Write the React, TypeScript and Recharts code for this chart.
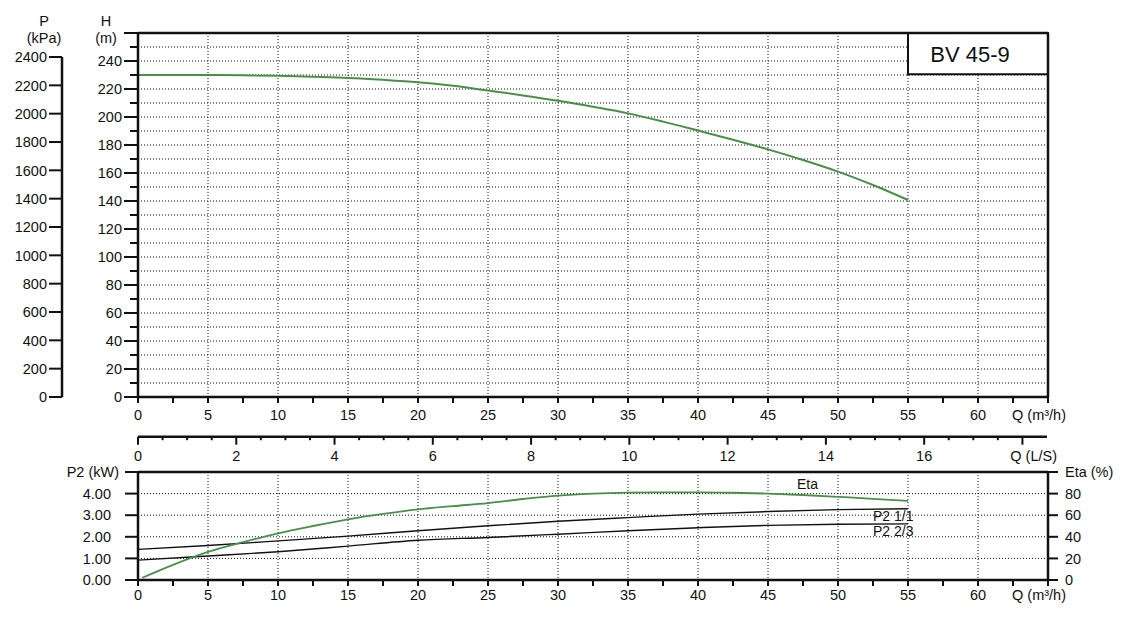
import React from 'react';
import { LineChart, Line, XAxis, YAxis, CartesianGrid, ReferenceLine, ReferenceArea } from 'recharts';

const FONT = '"Liberation Sans", Arial, Helvetica, sans-serif';
const FS = 14.5;
const INK = '#111';
const GREEN = '#4a8f4a';

// Q-H curve (Q in m³/h, H in m)
const qH = [0, 2.5, 5, 7.5, 10, 12.5, 15, 17.5, 20, 22.5, 25, 27.5, 30, 32.5, 35, 37.5, 40, 42.5, 45, 47.5, 50, 52.5, 55];
const hValues = [230, 230, 230, 229.8, 229.4, 228.7, 227.9, 226.6, 224.9, 222.3, 218.9, 215.4, 211.6, 207.3, 202.6, 196.7, 190.3, 183.8, 176.9, 169.3, 161, 151.4, 140.7];

// Efficiency (%)
const qEta = [0.3, 2.5, 5, 7.5, 10, 12.5, 15, 17.5, 20, 22.5, 25, 27.5, 30, 32.5, 35, 37.5, 40, 42.5, 45, 47.5, 50, 52.5, 55];
const etaValues = [2, 14, 26, 35, 43.2, 50, 56.2, 61.2, 65.4, 68.4, 71.2, 75, 78.2, 80, 80.9, 81.2, 81.2, 80.8, 80, 78.7, 77, 75.2, 73.2];

// Shaft power P2 (kW)
const qP2 = [0, 5, 10, 15, 20, 25, 30, 35, 40, 45, 50, 55];
const p2Full = [1.42, 1.6, 1.81, 2.03, 2.28, 2.51, 2.72, 2.89, 3.05, 3.17, 3.26, 3.3];
const p2TwoThirds = [0.92, 1.11, 1.31, 1.57, 1.84, 1.97, 2.12, 2.28, 2.42, 2.53, 2.58, 2.6];

// Axis ticks
const qTicks = [0, 2.5, 5, 7.5, 10, 12.5, 15, 17.5, 20, 22.5, 25, 27.5, 30, 32.5, 35, 37.5, 40, 42.5, 45, 47.5, 50, 52.5, 55, 57.5, 60, 62.5, 65];
const qGrid = [5, 10, 15, 20, 25, 30, 35, 40, 45, 50, 55, 60];
const hTicks = [0, 10, 20, 30, 40, 50, 60, 70, 80, 90, 100, 110, 120, 130, 140, 150, 160, 170, 180, 190, 200, 210, 220, 230, 240, 250, 260];
const hGrid = [10, 20, 30, 40, 50, 60, 70, 80, 90, 100, 110, 120, 130, 140, 150, 160, 170, 180, 190, 200, 210, 220, 230, 240, 250];
const kpaTicks = [0, 200, 400, 600, 800, 1000, 1200, 1400, 1600, 1800, 2000, 2200, 2400];
const lsTicks = [0, 0.5, 1, 1.5, 2, 2.5, 3, 3.5, 4, 4.5, 5, 5.5, 6, 6.5, 7, 7.5, 8, 8.5, 9, 9.5, 10, 10.5, 11, 11.5, 12, 12.5, 13, 13.5, 14, 14.5, 15, 15.5, 16, 16.5, 17, 17.5, 18, 18.5];
const p2Ticks = [0, 1, 2, 3, 4, 5];
const p2Grid = [1, 2, 3, 4];
const etaTicks = [0, 20, 40, 60, 80, 100];
const rightTopTicks = [0];

const modelName = 'BV 45-9';
const modelBox = { q1: 55, q2: 65, h1: 230.5, h2: 260 };

const hData = qH.map((q, i) => ({ q, h: hValues[i] }));
const etaData = qEta.map((q, i) => ({ q, eta: etaValues[i] }));
const p2Data = qP2.map((q, i) => ({ q, full: p2Full[i], two: p2TwoThirds[i] }));

const txt = { fontFamily: FONT, fontSize: FS, fill: INK } as const;
const axisStyle = { stroke: INK, strokeWidth: 2.5 };

function QTick(props: any) {
  const { x, y, payload, labelDy } = props;
  const v = payload.value;
  const lab = v % 5 === 0 && v <= 60;
  return (
    <g>
      <line x1={x} y1={y} x2={x} y2={y + 6} stroke={INK} strokeWidth={2} />
      {lab && (
        <text x={x} y={y + labelDy} textAnchor="middle" {...txt}>{v}</text>
      )}
      {v === 65 && (
        <text x={x + 18} y={y + labelDy} textAnchor="end" {...txt}>Q (m³/h)</text>
      )}
    </g>
  );
}

function LsTick(props: any) {
  const { x, y, payload } = props;
  const v = payload.value;
  if (v === 18.5) {
    return <text x={x + 10} y={y + 24.5} textAnchor="end" {...txt}>Q (L/S)</text>;
  }
  const major = v % 2 === 0;
  return (
    <g>
      <line x1={x} y1={y} x2={x} y2={y + (major ? 8 : 3.5)} stroke={INK} strokeWidth={2} />
      {major && v <= 16 && <text x={x} y={y + 24.5} textAnchor="middle" {...txt}>{v}</text>}
    </g>
  );
}

function HTick(props: any) {
  const { x, y, payload } = props;
  const v = payload.value;
  const major = v % 20 === 0;
  return (
    <g>
      <line x1={x - (major ? 14 : 8)} y1={y} x2={x} y2={y} stroke={INK} strokeWidth={2} />
      {major && v <= 240 && (
        <text x={x - 16} y={y} dy="0.36em" textAnchor="end" {...txt}>{v}</text>
      )}
      {v === 260 && (
        <g>
          <text x={x - 32} y={y - 7} textAnchor="middle" {...txt}>H</text>
          <text x={x - 32} y={y + 10} textAnchor="middle" {...txt}>(m)</text>
        </g>
      )}
    </g>
  );
}

function KpaTick(props: any) {
  const { x, y, payload } = props;
  const v = payload.value;
  return (
    <g>
      <line x1={x - 13} y1={y} x2={x} y2={y} stroke={INK} strokeWidth={2} />
      <text x={x - 15} y={y} dy="0.36em" textAnchor="end" {...txt}>{v}</text>
      {v === 2400 && (
        <g>
          <text x={x - 18} y={y - 31} textAnchor="middle" {...txt}>P</text>
          <text x={x - 18} y={y - 14} textAnchor="middle" {...txt}>(kPa)</text>
        </g>
      )}
    </g>
  );
}

function RightTopTick(props: any) {
  const { x, y, payload } = props;
  return (
    <g>
      <line x1={x} y1={y} x2={x + 12} y2={y} stroke={INK} strokeWidth={2} />
      <text x={x + 14} y={y} dy="0.36em" textAnchor="start" {...txt}>{payload.value}</text>
    </g>
  );
}

function P2Tick(props: any) {
  const { x, y, payload } = props;
  const v = payload.value;
  return (
    <g>
      <line x1={x - 13} y1={y} x2={x} y2={y} stroke={INK} strokeWidth={2} />
      {v < 5 ? (
        <text x={x - 27} y={y} dy="0.36em" textAnchor="end" {...txt}>{v.toFixed(2)}</text>
      ) : (
        <text x={x - 19} y={y} dy="0.36em" textAnchor="end" {...txt}>P2 (kW)</text>
      )}
    </g>
  );
}

function EtaTick(props: any) {
  const { x, y, payload } = props;
  const v = payload.value;
  return (
    <g>
      <line x1={x} y1={y} x2={x + 10} y2={y} stroke={INK} strokeWidth={2} />
      <text x={x + 17} y={y} dy="0.36em" textAnchor="start" {...txt}>{v < 100 ? v : 'Eta (%)'}</text>
    </g>
  );
}

function BoxLabel(props: any) {
  const vb = props.viewBox || {};
  const cx = vb.x + vb.width / 2 - 8;
  const cy = vb.y + vb.height / 2;
  return (
    <text x={cx} y={cy} dy="0.36em" textAnchor="middle" fontFamily={FONT} fontSize={22} fill={INK}>
      {modelName}
    </text>
  );
}

const endLabel = (text: string, dx: number, dy: number, last: number) => (props: any) => {
  if (props.index !== last) return <g />;
  return (
    <text x={props.x + dx} y={props.y + dy} textAnchor="start" fontFamily={FONT} fontSize={14} fill={INK}>
      {text}
    </text>
  );
};

export default function App() {
  return (
    <div style={{ position: 'absolute', left: 0, top: 0, width: 1124, height: 625, background: '#fff', overflow: 'hidden' }}>
      {/* Q-H chart */}
      <div style={{ position: 'absolute', left: 0, top: 0 }}>
        <LineChart width={1124} height={430} data={hData} margin={{ top: 33, right: 36, bottom: 3, left: 98 }}>
          <CartesianGrid
            horizontalValues={hGrid}
            verticalValues={qGrid}
            stroke={INK}
            strokeWidth={1}
            strokeDasharray="1 2"
          />
          <XAxis
            dataKey="q"
            type="number"
            domain={[0, 65]}
            ticks={qTicks}
            interval={0}
            height={30}
            tickSize={0}
            tickMargin={0}
            tickLine={false}
            axisLine={axisStyle}
            tick={<QTick labelDy={23} />}
            allowDataOverflow
          />
          <YAxis
            type="number"
            domain={[0, 260]}
            ticks={hTicks}
            interval={0}
            width={40}
            tickSize={0}
            tickMargin={0}
            tickLine={false}
            axisLine={axisStyle}
            tick={<HTick />}
            allowDataOverflow
          />
          <YAxis
            yAxisId="r"
            orientation="right"
            type="number"
            domain={[0, 260]}
            ticks={rightTopTicks}
            interval={0}
            width={40}
            tickSize={0}
            tickMargin={0}
            tickLine={false}
            axisLine={axisStyle}
            tick={<RightTopTick />}
          />
          <ReferenceLine y={260} stroke={INK} strokeWidth={2.5} />
          <ReferenceArea
            x1={modelBox.q1}
            x2={modelBox.q2}
            y1={modelBox.h1}
            y2={modelBox.h2}
            fill="#fff"
            fillOpacity={1}
            stroke={INK}
            strokeWidth={2}
            label={<BoxLabel />}
          />
          <Line dataKey="h" type="monotone" stroke={GREEN} strokeWidth={2} dot={false} isAnimationActive={false} />
        </LineChart>
      </div>

      {/* kPa axis */}
      <div style={{ position: 'absolute', left: 0, top: 0 }}>
        <LineChart width={200} height={430} data={hData} margin={{ top: 57, right: 0, bottom: 33, left: 0 }}>
          <XAxis dataKey="q" type="number" domain={[0, 65]} hide />
          <YAxis
            type="number"
            domain={[0, 2400]}
            ticks={kpaTicks}
            interval={0}
            width={62}
            tickSize={0}
            tickMargin={0}
            tickLine={false}
            axisLine={axisStyle}
            tick={<KpaTick />}
            allowDataOverflow
          />
        </LineChart>
      </div>

      {/* L/S axis */}
      <div style={{ position: 'absolute', left: 0, top: 400 }}>
        <LineChart width={1124} height={70} data={hData} margin={{ top: 0, right: 77, bottom: 3.3, left: 138 }}>
          <XAxis
            dataKey="ls"
            type="number"
            domain={[0, 18.5]}
            ticks={lsTicks}
            interval={0}
            height={30}
            tickSize={0}
            tickMargin={0}
            tickLine={false}
            axisLine={axisStyle}
            tick={<LsTick />}
            allowDataOverflow
          />
          <YAxis hide domain={[0, 1]} />
        </LineChart>
      </div>

      {/* P2 / Eta chart */}
      <div style={{ position: 'absolute', left: 0, top: 440 }}>
        <LineChart width={1124} height={185} margin={{ top: 32, right: 36, bottom: 15, left: 98 }}>
          <CartesianGrid
            yAxisId="p2"
            horizontalValues={p2Grid}
            verticalValues={qGrid}
            stroke={INK}
            strokeWidth={1}
            strokeDasharray="1 2"
          />
          <XAxis
            dataKey="q"
            type="number"
            domain={[0, 65]}
            ticks={qTicks}
            interval={0}
            height={30}
            tickSize={0}
            tickMargin={0}
            tickLine={false}
            axisLine={axisStyle}
            tick={<QTick labelDy={20} />}
            allowDataOverflow
          />
          <YAxis
            yAxisId="p2"
            type="number"
            domain={[0, 5]}
            ticks={p2Ticks}
            interval={0}
            width={40}
            tickSize={0}
            tickMargin={0}
            tickLine={false}
            axisLine={axisStyle}
            tick={<P2Tick />}
            allowDataOverflow
          />
          <YAxis
            yAxisId="eta"
            orientation="right"
            type="number"
            domain={[0, 100]}
            ticks={etaTicks}
            interval={0}
            width={40}
            tickSize={0}
            tickMargin={0}
            tickLine={false}
            axisLine={axisStyle}
            tick={<EtaTick />}
            allowDataOverflow
          />
          <ReferenceLine yAxisId="p2" y={5} stroke={INK} strokeWidth={2.5} />
          <Line
            yAxisId="p2"
            data={p2Data}
            dataKey="full"
            type="monotone"
            stroke={INK}
            strokeWidth={1.4}
            dot={false}
            isAnimationActive={false}
            label={endLabel('P2 1/1', -35, 12.4, p2Data.length - 1)}
          />
          <Line
            yAxisId="p2"
            data={p2Data}
            dataKey="two"
            type="monotone"
            stroke={INK}
            strokeWidth={1.4}
            dot={false}
            isAnimationActive={false}
            label={endLabel('P2 2/3', -35, 12, p2Data.length - 1)}
          />
          <Line
            yAxisId="eta"
            data={etaData}
            dataKey="eta"
            type="monotone"
            stroke={GREEN}
            strokeWidth={1.8}
            dot={false}
            isAnimationActive={false}
            label={endLabel('Eta', -111, -12.4, etaData.length - 1)}
          />
        </LineChart>
      </div>
    </div>
  );
}
